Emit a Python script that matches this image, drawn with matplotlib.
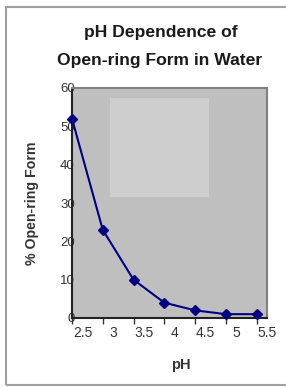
"""pH dependence of open-ring form - Excel style line chart"""

import numpy as np
import matplotlib
matplotlib.use('Agg')
import matplotlib.pyplot as plt
from matplotlib.patches import Rectangle

ph_labels = ['2.5', '3', '3.5', '4', '4.5', '5', '5.5']
open_ring = [52, 23, 10, 4, 2, 1, 1]
y_ticks = [0, 10, 20, 30, 40, 50, 60]

plt.rcParams['font.family'] = ['Liberation Sans', 'DejaVu Sans']

fig = plt.figure(figsize=(2.86, 3.87), dpi=100)
fig.patch.set_facecolor('white')

# outer chart frame
fig.patches.append(Rectangle((6 / 286, 2 / 387), 1.2, 1 - 9 / 387,
                             transform=fig.transFigure, fill=False,
                             edgecolor='#a0a0a0', lw=1.5))

ax = fig.add_axes([72 / 286, 1 - 318 / 387, 195 / 286, 230 / 387])
ax.set_facecolor('#bfbfbf')

# lighter reflection patch in plot area
ax.add_patch(Rectangle((0.196, 0.526), 0.505, 0.43, transform=ax.transAxes,
                       facecolor='#cecece', edgecolor='none', zorder=0))

x = np.arange(len(open_ring))
ax.plot(x, open_ring, color='#000080', lw=1.5, marker='D', markersize=5.5,
        clip_on=False, zorder=3)

ax.set_xlim(0, len(open_ring) - 1)
ax.set_ylim(0, 60)

# category labels sit offset from the tick marks
ax.set_xticks(x)
ax.set_xticklabels([])
ax.set_xticks(x + 0.34, minor=True)
ax.set_xticklabels(ph_labels, minor=True)
ax.tick_params(axis='x', which='major', direction='out', length=4,
               color='#333333', width=1)
ax.tick_params(axis='x', which='minor', length=0, pad=6, labelsize=10,
               labelcolor='#333333')

ax.set_yticks(y_ticks)
ax.tick_params(axis='y', length=0, pad=-2, labelsize=9.5, labelcolor='#333333')

for side in ['left', 'bottom']:
    ax.spines[side].set_color('#222222')
    ax.spines[side].set_linewidth(1.5)
for side in ['top', 'right']:
    ax.spines[side].set_color('#808080')
    ax.spines[side].set_linewidth(1.5)

fig.text(0.563, 1 - 32 / 387, 'pH Dependence of', ha='center', va='center',
         fontsize=12.6, fontweight='bold', color='#1a1a1a')
fig.text(0.558, 1 - 61 / 387, 'Open-ring Form in Water', ha='center',
         va='center', fontsize=12.6, fontweight='bold', color='#1a1a1a')
fig.text(32 / 286, 1 - 203 / 387, '% Open-ring Form', rotation=90,
         ha='center', va='center', fontsize=10.2, fontweight='bold',
         color='#333333')
fig.text(181 / 286, 1 - 365 / 387, 'pH', ha='center', va='center',
         fontsize=10.5, fontweight='bold', color='#333333')

plt.savefig('out.png', dpi=100)
plt.close()
